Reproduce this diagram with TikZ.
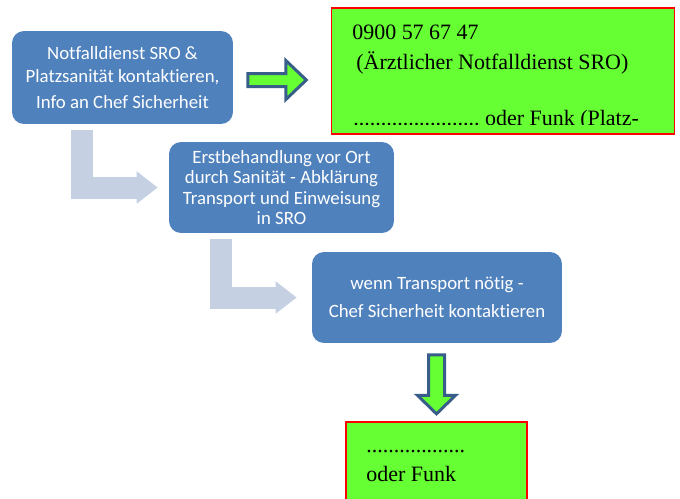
\documentclass[tikz,border=0pt]{standalone}
\usepackage{fontspec}
\setmainfont{Liberation Serif}
\newfontfamily\calibrifont[Ligatures=NoCommon]{Carlito}
\usepackage{xcolor}
\usetikzlibrary{calc,arrows.meta}

\definecolor{boxblue}{HTML}{4F81BD}
\definecolor{pale}{HTML}{C5D0E3}
\definecolor{arrowblue}{HTML}{385D8A}
\definecolor{signal}{HTML}{66FF33}

\tikzset{
	stepbox/.style={rounded corners=0.24cm, fill=boxblue, text=white, align=center, inner sep=0pt,
		font=\calibrifont\fontsize{10.7}{13}\selectfont},
	notebox/.style={fill=signal, draw=red, line width=0.6pt},
	notetext/.style={anchor=base west, inner sep=0pt, font=\fontsize{12.5}{15}\selectfont},
	elbow/.style={draw=pale, color=pale, line width=0.44cm, line join=miter,
		-{Triangle[length=0.42cm,width=0.62cm]}},
	fatarrow/.style={draw=arrowblue, fill=signal, line width=0.06cm, line join=miter}
}

\begin{document}
\begin{tikzpicture}[x=0.02cm, y=-0.02cm]
	\clip (0,0) rectangle (680,498);

	% blue steps
	\node[stepbox, minimum width=4.42cm, minimum height=1.86cm] (alarm) at (122.5,77.5)
		{Notfalldienst SRO \&\\ Platzsanität kontaktieren,\\[1.7pt] Info an Chef Sicherheit};
	\node[stepbox, minimum width=4.5cm, minimum height=1.82cm,
		font=\calibrifont\fontsize{10.7}{11.5}\selectfont] (care) at (281.5,187.5)
		{Erstbehandlung vor Ort\\ durch Sanität - Abklärung\\ Transport und Einweisung\\ in SRO};
	\node[stepbox, minimum width=5cm, minimum height=1.82cm] (transport) at (437,297.5)
		{wenn Transport nötig -\\[2.9pt] Chef Sicherheit kontaktieren};

	% green notes
	\node[notebox, minimum width=6.88cm, minimum height=2.52cm] (notruf) at (503,71) {};
	\node[notetext] (phone) at (352,39) {0900 57 67 47};
	\node[notetext] (service) at (356,69) {(Ärztlicher Notfalldienst SRO)};
	\begin{scope}
		\clip (notruf.north west) rectangle ($(notruf.south east)+(0,-10.5)$);
		\node[notetext] (radio) at (353,125) {.......................\ oder Funk (Platz-};
	\end{scope}

	\node[notebox, minimum width=3.62cm, minimum height=2cm] (funk) at (436.5,472) {};
	\node[notetext] (dots) at (366,452) {..................};
	\node[notetext] (orradio) at (366,481) {oder Funk};

	% elbow arrows
	\draw[elbow] ($(alarm.south west)+(70,6)$) |- ($(care.west)+(-11,0)$);
	\draw[elbow] ($(care.south west)+(52,6)$) |- ($(transport.west)+(-15,0)$);

	% block arrows
	\draw[fatarrow] ($(alarm.east)+(14.5,2.5)$) ++(0,-6.5) -- ++(38,0) -- ++(0,-13) -- ++(20.5,19.5)
		-- ++(-20.5,19.5) -- ++(0,-13) -- ++(-38,0) -- cycle;
	\draw[fatarrow] ($(transport.south)+(-0.5,11.5)$) ++(-8,0) -- ++(0,40.5) -- ++(-11,0) -- ++(19,18.5)
		-- ++(19,-18.5) -- ++(-11,0) -- ++(0,-40.5) -- cycle;
\end{tikzpicture}
\end{document}
